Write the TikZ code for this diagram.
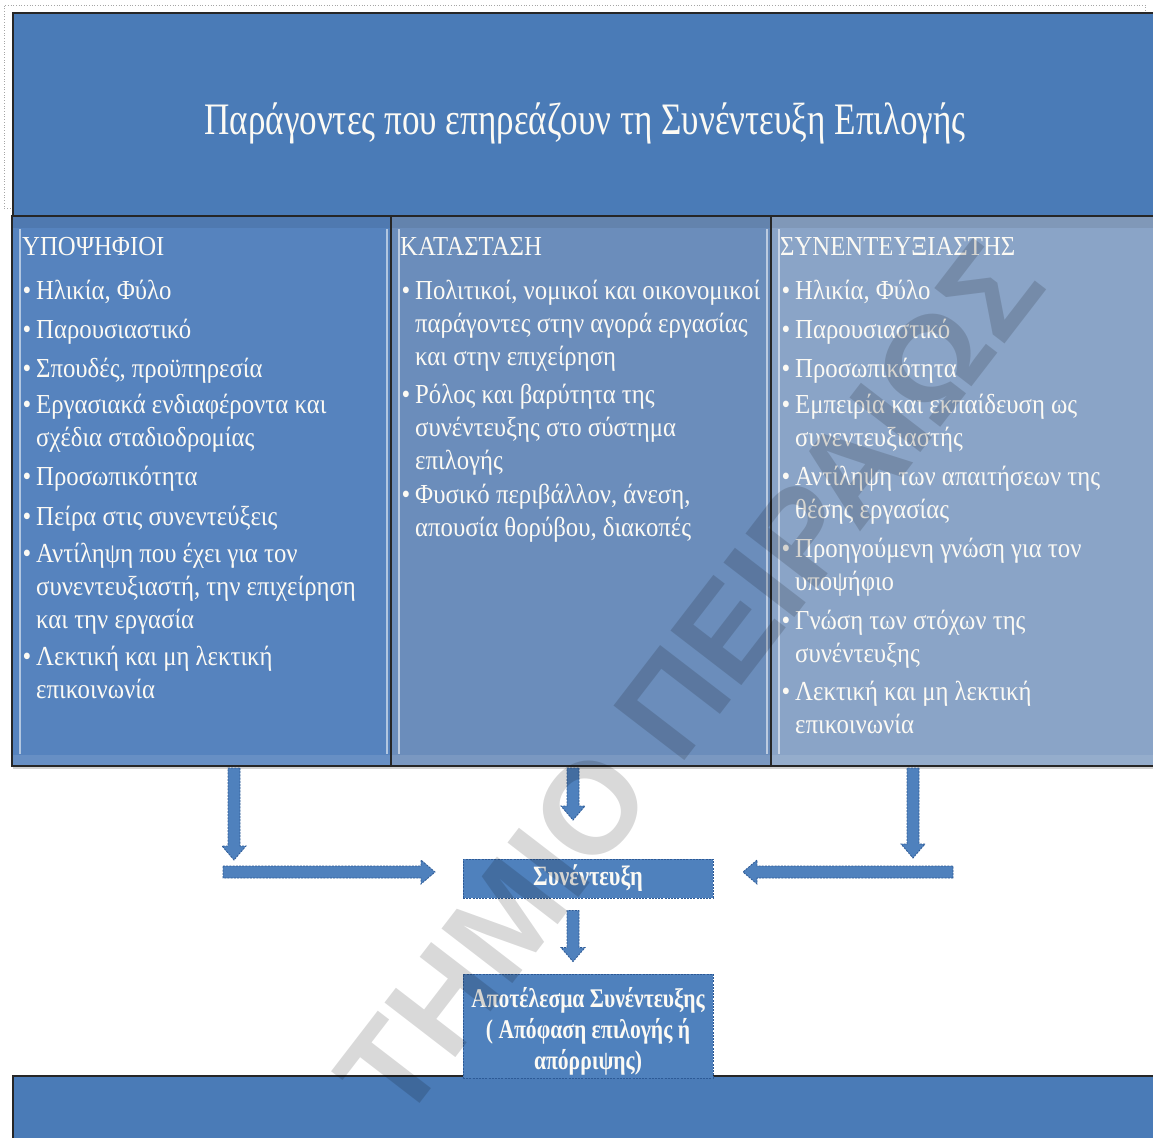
\documentclass[tikz,border=0pt]{standalone}
\usepackage{fontspec}
\setmainfont{Liberation Serif}[FakeStretch=0.9]
\newfontfamily\titlefont{Liberation Serif}[FakeStretch=0.78]
\newfontfamily\boxfont{Liberation Serif}[FakeStretch=0.8]
\newfontfamily\markfont{Liberation Sans}
\usetikzlibrary{calc,shadows}

\definecolor{hdrblue}{RGB}{74,123,183}
\definecolor{colA}{RGB}{86,131,190}
\definecolor{colB}{RGB}{107,141,187}
\definecolor{colC}{RGB}{138,164,199}
\definecolor{accent}{RGB}{79,129,189}
\definecolor{dashblue}{RGB}{45,90,150}
\definecolor{txt}{RGB}{252,250,244}

\tikzset{
  panel/.style={draw=black!85, line width=1.3pt},
  colpanel/.style={panel, drop shadow={opacity=0.35, shadow xshift=1pt, shadow yshift=-3pt}},
  bevel/.style={draw=white, draw opacity=0.55, line width=2pt},
  head/.style={anchor=base west, inner sep=0, text=txt, font=\fontsize{27.5}{33}\selectfont},
  % multi-line items are placed by the baseline of their last line
  itm/.style={anchor=base west, inner sep=0, text=txt, align=left, font=\fontsize{27.5}{33}\selectfont},
  barrow/.style={fill=accent, draw=dashblue, line width=0.8pt, dash pattern=on 2pt off 1.2pt},
  flowbox/.style={fill=accent, draw=dashblue, line width=0.8pt, dash pattern=on 2pt off 1.2pt,
    text=txt, align=center, inner sep=0},
}

% one of the three factor panels: left x, right x, fill colour
\newcommand{\factorpanel}[3]{%
  \draw[colpanel, fill=#3] (#1,216) rectangle (#2,766);
  \fill[black, opacity=0.07] (#1+1,217) rectangle (#2-1,228);
  \fill[white, opacity=0.10] (#1+1,755) rectangle (#2-1,765);
  \draw[bevel] (#1+8,229) -- (#1+8,754);
  \draw[bevel] (#2-4,229) -- (#2-4,754);
}

% block arrow from coordinate #1 to coordinate #2
\newcommand{\blockarrow}[2]{%
  \coordinate (hb) at ($(#2)!14pt!(#1)$);
  \draw[barrow] ($(#1)!6pt!90:(#2)$) -- ($(hb)!6pt!90:(#2)$) -- ($(hb)!12pt!90:(#2)$)
    -- (#2) -- ($(hb)!12pt!-90:(#2)$) -- ($(hb)!6pt!-90:(#2)$) -- ($(#1)!6pt!-90:(#2)$) -- cycle;
}

\newcommand{\bul}{\llap{•\hspace{5pt}}}

\begin{document}
\begin{tikzpicture}[x=1pt, y=-1pt]
\useasboundingbox (0,0) rectangle (1153,1137);
\clip (0,0) rectangle (1153,1137);
\fill[white] (0,0) rectangle (1153,1137);

% text frame outline
\draw[gray!70, dotted, line width=0.7pt] (13,208) -- (4,208) -- (4,5) -- (1145,5) -- (1145,11);

% title band
\draw[panel, fill=hdrblue] (13,13) rectangle (1165,216);
\node[anchor=base, inner sep=0, text=txt, font=\titlefont\fontsize{45}{52}\selectfont] (title) at (585,135)
  {Παράγοντες που επηρεάζουν τη Συνέντευξη Επιλογής};

% the three factor panels
\factorpanel{12}{391}{colA}
\factorpanel{391}{771}{colB}
\factorpanel{771}{1165}{colC}

% candidates
\node[head] (hC) at (22,255) {ΥΠΟΨΗΦΙΟΙ};
\node[itm] (c1) at (36,299) {\bul Ηλικία, Φύλο};
\node[itm] (c2) at (36,338) {\bul Παρουσιαστικό};
\node[itm] (c3) at (36,377) {\bul Σπουδές, προϋπηρεσία};
\node[itm] (c4) at (36,446) {\bul Εργασιακά ενδιαφέροντα και\\σχέδια σταδιοδρομίας};
\node[itm] (c5) at (36,485) {\bul Προσωπικότητα};
\node[itm] (c6) at (36,525) {\bul Πείρα στις συνεντεύξεις};
\node[itm] (c7) at (36,628) {\bul Αντίληψη που έχει για τον\\συνεντευξιαστή, την επιχείρηση\\και την εργασία};
\node[itm] (c8) at (36,698) {\bul Λεκτική και μη λεκτική\\επικοινωνία};

% situation
\node[head] (hS) at (400,255) {ΚΑΤΑΣΤΑΣΗ};
\node[itm] (s1) at (415,365) {\bul Πολιτικοί, νομικοί και οικονομικοί\\παράγοντες στην αγορά εργασίας\\και στην επιχείρηση};
\node[itm] (s2) at (415,469) {\bul Ρόλος και βαρύτητα της\\συνέντευξης στο σύστημα\\επιλογής};
\node[itm] (s3) at (415,536) {\bul Φυσικό περιβάλλον, άνεση,\\απουσία θορύβου, διακοπές};

% interviewer
\node[head] (hI) at (780,255) {ΣΥΝΕΝΤΕΥΞΙΑΣΤΗΣ};
\node[itm] (i1) at (795,299) {\bul Ηλικία, Φύλο};
\node[itm] (i2) at (795,338) {\bul Παρουσιαστικό};
\node[itm] (i3) at (795,377) {\bul Προσωπικότητα};
\node[itm] (i4) at (795,446) {\bul Εμπειρία και εκπαίδευση ως\\συνεντευξιαστής};
\node[itm] (i5) at (795,518) {\bul Αντίληψη των απαιτήσεων της\\θέσης εργασίας};
\node[itm] (i6) at (795,590) {\bul Προηγούμενη γνώση για τον\\υποψήφιο};
\node[itm] (i7) at (795,662) {\bul Γνώση των στόχων της\\συνέντευξης};
\node[itm] (i8) at (795,733) {\bul Λεκτική και μη λεκτική\\επικοινωνία};

% bottom band
\draw[panel, fill=hdrblue] (13,1076) rectangle (1165,1150);

% process boxes
\node[flowbox, minimum width=250pt, minimum height=39pt,
  font=\boxfont\bfseries\fontsize{28}{31}\selectfont] (interview) at (588,878.5) {Συνέντευξη};
\node[flowbox, minimum width=250pt, minimum height=104pt, text depth=0pt,
  font=\boxfont\bfseries\fontsize{27}{31}\selectfont] (result) at (588,1026) {};
\node[inner sep=0, text=txt, align=center, font=\boxfont\bfseries\fontsize{27}{31}\selectfont]
  (resulttext) at (588,1031) {Αποτέλεσμα Συνέντευξης\\( Απόφαση επιλογής ή\\απόρριψης)};

% arrows
\coordinate (aL0) at (234,768);  \coordinate (aL1) at (234,860);
\coordinate (hL0) at (223,872);  \coordinate (hL1) at (435,872);
\coordinate (aM0) at (573,768);  \coordinate (aM1) at (573,820);
\coordinate (aR0) at (913,768);  \coordinate (aR1) at (913,858);
\coordinate (hR0) at (953,872);  \coordinate (hR1) at (743,872);
\coordinate (aS0) at ($(interview.south)+(-15,12)$);
\coordinate (aS1) at ($(result.north)+(-15,-12)$);
\blockarrow{aL0}{aL1}
\blockarrow{hL0}{hL1}
\blockarrow{aM0}{aM1}
\blockarrow{aR0}{aR1}
\blockarrow{hR0}{hR1}
\blockarrow{aS0}{aS1}

% watermark
\node[inner sep=0, text=black, text opacity=0.15, rotate=52.4,
  font=\markfont\bfseries\fontsize{130}{130}\selectfont] (mark) at (690,680) {ΤΗΜΙΟ ΠΕΙΡΑΙΩΣ};
\end{tikzpicture}
\end{document}
